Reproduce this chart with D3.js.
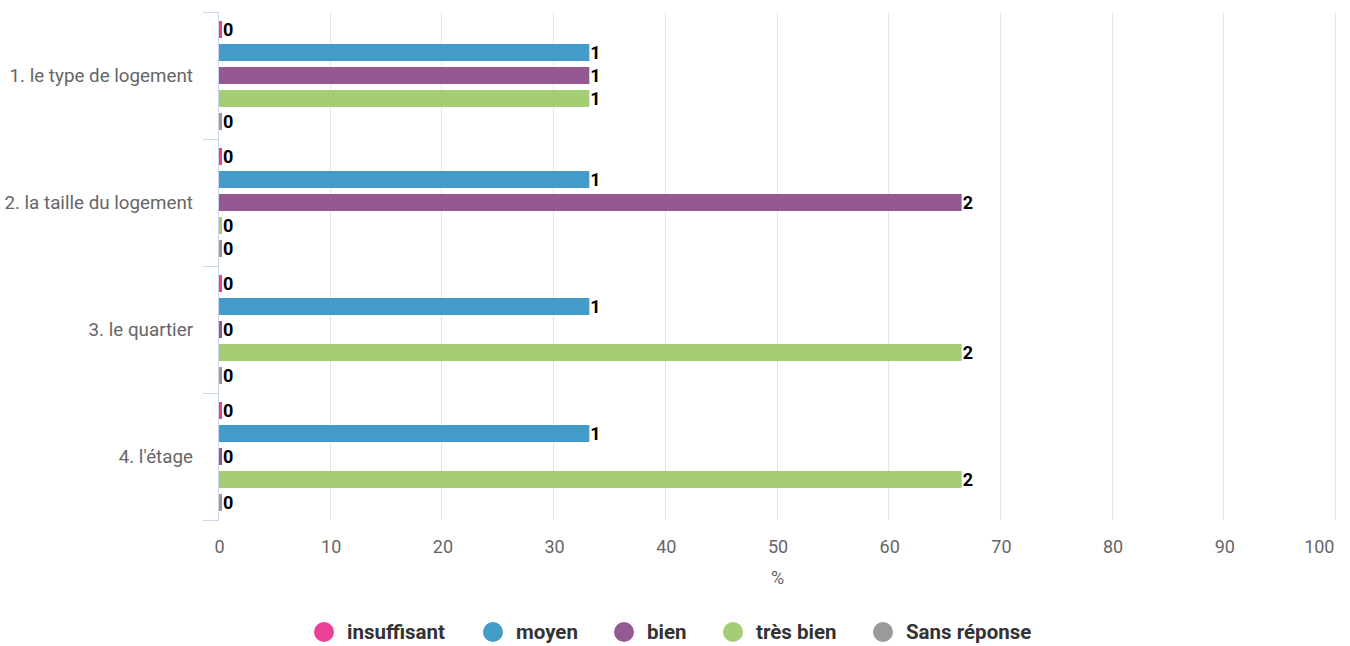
<!DOCTYPE html>
<html><head><meta charset="utf-8">
<script src="https://cdn.jsdelivr.net/npm/d3@7"></script>
<style>body{margin:0;background:#fff;font-family:Roboto,"Noto Sans",sans-serif;}</style>
</head><body><svg id="c" width="1350" height="646"></svg>
<script>
const categories = ["1. le type de logement","2. la taille du logement","3. le quartier","4. l'étage"];
const seriesNames = ["insuffisant","moyen","bien","très bien","Sans réponse"];
const seriesColors = ["#ea4196","#429cc7","#945892","#a5cd73","#9a9a9a"];
// counts per series (rows) per category (cols)
const insuffisant = [0,0,0,0];
const moyen = [1,1,1,1];
const bien = [1,2,0,0];
const tresBien = [1,0,2,2];
const sansReponse = [0,0,0,0];
const totalRespondents = 3;
const xTicks = [0,10,20,30,40,50,60,70,80,90,100];

const counts = [insuffisant,moyen,bien,tresBien,sansReponse];
const svg = d3.select("#c");
const pLeft = 219, pRight = 1336, pTop = 12, pBottom = 520;

const x = d3.scaleLinear().domain([0,100]).range([pLeft,pRight]);
const y = d3.scaleBand().domain(categories).range([pTop,pBottom]);
const yInner = d3.scaleBand().domain(seriesNames).range([6, y.bandwidth()-6]).paddingInner(6/23).paddingOuter(3/23);

// grid
svg.append("g").selectAll("line").data(xTicks.slice(1)).join("line")
  .attr("x1",d=>Math.round(x(d))-0.5).attr("x2",d=>Math.round(x(d))-0.5)
  .attr("y1",pTop).attr("y2",pBottom).attr("stroke","#e6e6e6").attr("stroke-width",1);

// x axis labels
const xa = svg.append("g").attr("transform",`translate(0,${pBottom})`)
  .call(d3.axisBottom(x).tickValues(xTicks).tickSize(0).tickPadding(20).tickFormat(d3.format("d")));
xa.select(".domain").remove();
xa.selectAll("text").attr("fill","#666").style("font-size","18px").style("font-family","Roboto");
xa.selectAll(".tick").filter(d=>d===100).select("text").attr("text-anchor","end").attr("x",-2);

svg.append("text").attr("x",(pLeft+pRight)/2).attr("y",584).attr("text-anchor","middle")
  .attr("fill","#666").style("font-size","18px").text("%");

// y axis
const ya = svg.append("g").attr("transform",`translate(${pLeft},0)`)
  .call(d3.axisLeft(y).tickSize(0).tickPadding(26));
ya.select(".domain").remove();
ya.selectAll("text").attr("fill","#666").style("font-size","18.8px").style("font-family","Roboto");
svg.append("line").attr("x1",pLeft-0.5).attr("x2",pLeft-0.5).attr("y1",pTop).attr("y2",pBottom)
  .attr("stroke","#ccd6eb").attr("stroke-width",1);
const bounds = categories.map(c=>y(c)).concat([y(categories[categories.length-1])+y.bandwidth()]);
svg.append("g").selectAll("line").data(bounds).join("line")
  .attr("x1",pLeft-16).attr("x2",pLeft).attr("y1",d=>Math.round(d)+0.5).attr("y2",d=>Math.round(d)+0.5)
  .attr("stroke","#ccd6eb");

// bars
seriesNames.forEach((s,si)=>{
  const g = svg.append("g");
  categories.forEach((c,ci)=>{
    const v = counts[si][ci];
    const pct = v/totalRespondents*100;
    const w = Math.max(x(pct)-x(0)-2, 3);
    const yy = y(c)+yInner(s);
    g.append("rect").attr("x",x(0)).attr("y",yy).attr("width",w).attr("height",yInner.bandwidth())
      .attr("fill",seriesColors[si]);
    g.append("text").attr("x",x(0)+w+1).attr("y",yy+yInner.bandwidth()/2).attr("dy","0.36em")
      .attr("fill","#000").style("font-size","18px").style("font-weight","bold")
      .attr("stroke","#fff").attr("stroke-width",2).attr("paint-order","stroke")
      .text(v);
  });
});

// legend
const legendX = [324,493,624,733,883];
const lg = svg.append("g");
seriesNames.forEach((s,i)=>{
  lg.append("circle").attr("cx",legendX[i]).attr("cy",632).attr("r",10).attr("fill",seriesColors[i]);
  lg.append("text").attr("x",legendX[i]+23).attr("y",632).attr("dy","0.36em")
    .attr("fill","#333").style("font-size","20.5px").style("font-weight","bold").text(s);
});
</script></body></html>
